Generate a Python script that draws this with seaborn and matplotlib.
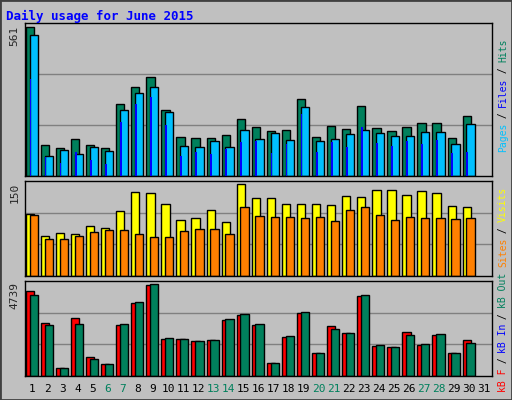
import matplotlib
matplotlib.use("Agg")
import matplotlib.pyplot as plt
import seaborn as sns
import numpy as np

sns.set_style("white")
plt.rcParams['font.family'] = ['DejaVu Sans Mono', 'DejaVu Sans']

days = list(range(1, 32))
weekend = [6, 7, 13, 14, 20, 21, 27, 28]

def sc(tops, base, span, vmax):
    return [round((base - t) / span * vmax) for t in tops]

hits = sc([27,376,384,357,376,384,255,205,175,273,352,355,355,346,300,322,334,331,241,352,319,328,259,325,334,322,310,310,355,289], 468, 441, 561)
files = sc([48,409,391,403,382,394,273,223,202,277,379,382,364,382,331,358,340,361,262,364,358,343,331,340,349,349,337,337,373,313], 468, 441, 561)
pages = sc([181,411,430,397,421,433,307,255,232,316,409,397,403,388,367,364,400,373,283,397,367,382,322,370,379,364,373,361,400,397], 468, 441, 561)
visits = sc([108,175,166,169,145,151,100,43,46,79,127,121,97,133,18,61,61,79,79,79,82,55,58,37,37,52,40,46,85,88], 295, 277, 150)
sites = sc([112,184,184,175,163,157,157,169,178,178,160,154,154,169,88,115,118,118,121,118,130,97,88,112,127,118,121,121,124,121], 295, 277, 150)
kbf = sc([40,136,270,121,235,256,142,76,22,184,184,190,187,127,112,142,253,178,106,223,145,166,55,205,208,163,202,172,223,187], 293, 275, 4739)
kbin = sc([52,142,270,139,241,256,139,73,18,181,184,190,187,124,109,139,253,175,103,223,154,166,52,202,208,172,199,169,223,196], 293, 275, 4739)

W, H = 512, 400
fig = plt.figure(figsize=(W/100, H/100), dpi=100, facecolor='#C0C0C0')
fig.patches.append(plt.Rectangle((0, 0), 1, 1, transform=fig.transFigure, fill=False, ec='#404040', lw=2))

def panel(y0, y1):
    return fig.add_axes([25/W, 1 - y1/H, (492-25)/W, (y1-y0)/H])

x = np.arange(1, 30 + 1)

def setup(ax, vmax, label):
    ax.set_facecolor('#C0C0C0')
    ax.set_xlim(0.5, 31.5)
    ax.set_ylim(0, vmax * 1.03)
    for f in (1/3, 2/3):
        ax.axhline(vmax * 1.03 * f, color='#808080', lw=1, zorder=0)
    ax.set_yticks([])
    ax.set_xticks([])
    ax.text(-0.012, 0.985, label, transform=ax.transAxes, rotation=90,
            ha='right', va='top', fontsize=8)
    for s in ax.spines.values():
        s.set_color('black'); s.set_linewidth(1)

def bars(ax, vals, off, w, color):
    ax.bar(x + off, vals, width=w, align='edge', color=color, edgecolor='black', linewidth=1, zorder=2)

a1 = panel(23, 176)
setup(a1, 561, '561')
bars(a1, hits, -0.45, 0.55, '#00805C')
bars(a1, files, -0.2, 0.55, '#00C0FF')
a1.bar(x - 0.2, pages, width=0.12, align='edge', color='#0000FF', linewidth=0, zorder=3)

a2 = panel(181, 276)
setup(a2, 150, '150')
bars(a2, visits, -0.45, 0.55, '#FFFF00')
bars(a2, sites, -0.2, 0.55, '#FF8000')

a3 = panel(281, 376)
setup(a3, 4739, '4739')
bars(a3, kbf, -0.45, 0.55, '#FF0000')
bars(a3, kbin, -0.2, 0.55, '#00805C')
a3.set_xticks(days)
a3.set_xticklabels([str(d) for d in days], fontsize=8)
a3.tick_params(axis='x', length=0, pad=6)
for lab, d in zip(a3.get_xticklabels(), days):
    lab.set_color('#00805C' if d in weekend else 'black')

fig.text(6/W, 1 - 16/H, 'Daily usage for June 2015', color='#0000FF', fontsize=9, fontweight='bold', va='center')

def rlabel(y_center, parts):
    total = sum(len(p[0]) for p in parts)
    ch = 5.6
    ybot = y_center + total * ch / 2
    for txt, col in parts:
        fig.text(503/W, 1 - ybot/H, txt, rotation=90, color=col, fontsize=7, ha='center', va='bottom')
        ybot -= len(txt) * ch

rlabel(96, [('Pages', '#00C0FF'), (' / ', 'black'), ('Files', '#0000FF'), (' / ', 'black'), ('Hits', '#00805C')])
rlabel(228, [('Sites', '#FF8000'), (' / ', 'black'), ('Visits', '#FFFF00')])
rlabel(333, [('kB F', '#FF0000'), (' / ', 'black'), ('kB In', '#0000FF'), (' / ', 'black'), ('kB Out', '#00805C')])

fig.savefig('out.png', dpi=100, facecolor=fig.get_facecolor())
